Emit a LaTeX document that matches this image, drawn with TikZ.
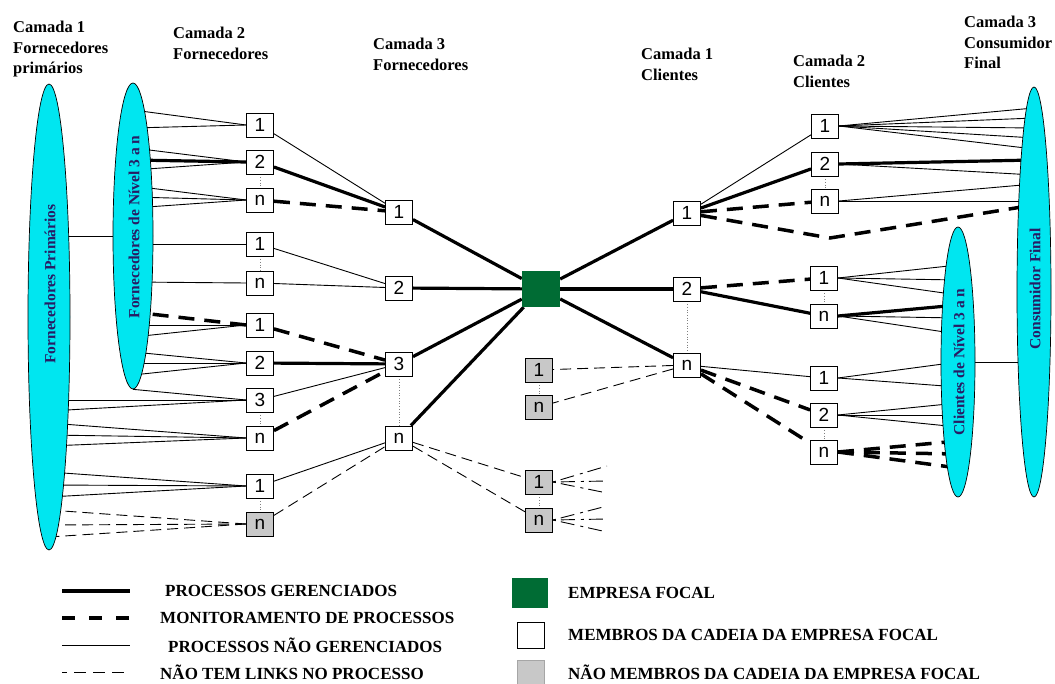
\documentclass[tikz,border=0pt]{standalone}
\usepackage{fontspec}
\setmainfont{Liberation Serif}
\newfontfamily\boxfont{Liberation Sans}
\usetikzlibrary{shapes.geometric}
\definecolor{cyanfill}{RGB}{0,230,240}
\definecolor{focalgreen}{RGB}{0,108,52}
\definecolor{navytext}{RGB}{40,28,100}
\definecolor{greybox}{RGB}{200,200,200}
\pgfdeclarelayer{bg}
\pgfsetlayers{bg,main}
\begin{document}
\begin{tikzpicture}[x=1pt,y=-1pt,
  mbox/.style={draw, fill=white, line width=0.9pt, minimum width=27pt, minimum height=24pt, inner sep=0pt, font=\boxfont\fontsize{19}{19}\selectfont},
  gbox/.style={mbox, fill=greybox},
  ell/.style={ellipse, draw, fill=cyanfill, line width=0.7pt, inner sep=0pt},
  etext/.style={rotate=90, text=navytext, font=\bfseries\fontsize{15.5}{15.5}\selectfont, inner sep=0pt},
  title/.style={anchor=north west, align=left, inner sep=0pt, font=\bfseries\fontsize{16.5}{20.5}\selectfont},
  legtext/.style={anchor=west, inner sep=0pt, font=\bfseries\fontsize{17}{17}\selectfont},
  thinl/.style={line width=0.9pt},
  thickl/.style={line width=3.2pt},
  mon/.style={line width=3.5pt, dash pattern=on 16pt off 10pt},
  nolink/.style={line width=0.9pt, dash pattern=on 11pt off 6pt},
  stub/.style={line width=0.9pt, dash pattern=on 3pt off 5pt on 14pt off 6pt},
  dots/.style={line width=0.7pt, dotted, gray},
]
\useasboundingbox (0,0) rectangle (1055,684);

% titles
\node[title] (T1) at (13,21) {Camada 1\\Fornecedores\\primários};
\node[title] (T2) at (173,27) {Camada 2\\Fornecedores};
\node[title] (T3) at (373,38) {Camada 3\\Fornecedores};
\node[title] (T4) at (641,48) {Camada 1\\Clientes};
\node[title] (T5) at (793,55) {Camada 2\\Clientes};
\node[title] (T6) at (964,16) {Camada 3\\Consumidor\\Final};

% ellipses
\node[ell, minimum width=42pt, minimum height=466pt] (FP) at (49,317) {};
\node[ell, minimum width=40pt, minimum height=306pt] (FN) at (133,236) {};
\node[ell, minimum width=34pt, minimum height=270pt] (CN) at (958,362) {};
\node[ell, minimum width=34pt, minimum height=410pt] (CF) at (1034,292) {};
\node[etext] (FPt) at (50,284) {Fornecedores Primários};
\node[etext] (FNt) at (134,227) {Fornecedores de Nível 3 a n};
\node[etext] (CNt) at (959,362) {Clientes de Nível 3 a n};
\node[etext] (CFt) at (1035,289) {Consumidor Final};

% camada 2 fornecedores
\node[mbox] (L1) at (260,125) {1};
\node[mbox] (L2) at (260,162) {2};
\node[mbox] (L3) at (260,200) {n};
\node[mbox] (L4) at (260,244) {1};
\node[mbox] (L5) at (260,283) {n};
\node[mbox] (L6) at (260,325) {1};
\node[mbox] (L7) at (260,363) {2};
\node[mbox] (L8) at (260,400) {3};
\node[mbox] (L9) at (260,438) {n};
\node[mbox] (L10) at (260,486) {1};
\node[gbox] (L11) at (260,524) {n};

% camada 3 fornecedores
\node[mbox] (F1) at (399,212) {1};
\node[mbox] (F2) at (399,288) {2};
\node[mbox] (F3) at (399,364) {3};
\node[mbox] (F4) at (399,438) {n};

% focal
\node[fill=focalgreen, minimum width=38pt, minimum height=36pt, inner sep=0pt] (FOC) at (541,289) {};

% non members
\node[gbox] (G1) at (539,370) {1};
\node[gbox] (G2) at (539,407) {n};
\node[gbox] (G3) at (539,482) {1};
\node[gbox] (G4) at (539,520) {n};

% camada 1 clientes
\node[mbox] (C1a) at (687,213) {1};
\node[mbox] (C1b) at (687,289) {2};
\node[mbox] (C1c) at (687,365) {n};

% camada 2 clientes
\node[mbox] (R1) at (825,126) {1};
\node[mbox] (R2) at (825,164) {2};
\node[mbox] (R3) at (825,201) {n};
\node[mbox] (R4) at (824,278) {1};
\node[mbox] (R5) at (824,316) {n};
\node[mbox] (R6) at (824,378) {1};
\node[mbox] (R7) at (824,415) {2};
\node[mbox] (R8) at (824,452) {n};

\coordinate (kink) at (830,238);
\foreach \yy [count=\i] in {466,481,493} {\coordinate (sa\i) at (607,\yy);}
\foreach \yy [count=\i] in {506,519,532} {\coordinate (sb\i) at (607,\yy);}

\begin{pgfonlayer}{bg}
% ellipse link lines
\draw[thinl] (FN) -- (FP.center |- FN.center);
\draw[thinl] (CN) -- (CF.center |- CN.center);
% fans left
\foreach \yy in {110,128} \draw[thinl] (L1.west) -- (FN.center |- 0,\yy);
\foreach \yy in {148,170} \draw[thinl] (L2.west) -- (FN.center |- 0,\yy);
\draw[thickl] (L2.west) -- (FN.center |- 0,160);
\foreach \yy in {186,197,208} \draw[thinl] (L3.west) -- (FN.center |- 0,\yy);
\draw[thinl] (L4.west) -- (FN.center |- 0,244);
\draw[thinl] (L5.west) -- (FN.center |- 0,282);
\draw[mon] (L6.west) -- (FN.center |- 0,312);
\foreach \yy in {325,337} \draw[thinl] (L6.west) -- (FN.center |- 0,\yy);
\foreach \yy in {352,363,375} \draw[thinl] (L7.west) -- (FN.center |- 0,\yy);
\draw[thinl] (L8.west) -- (FN.south);
\foreach \yy in {400,411} \draw[thinl] (L8.west) -- (FP.center |- 0,\yy);
\foreach \yy in {423,435,446} \draw[thinl] (L9.west) -- (FP.center |- 0,\yy);
\foreach \yy in {472,485,497} \draw[thinl] (L10.west) -- (FP.center |- 0,\yy);
\foreach \yy in {510,525,537} \draw[nolink] (L11.west) -- (FP.center |- 0,\yy);
% camada 2 -> camada 3
\draw[thinl] (L1) -- (F1);
\draw[thickl] (L2) -- (F1);
\draw[mon] (L3) -- (F1);
\draw[thinl] (L4) -- (F2);
\draw[thinl] (L5) -- (F2);
\draw[mon] (L6) -- (F3);
\draw[thickl] (L7) -- (F3);
\draw[thinl] (L8) -- (F3);
\draw[mon] (L9) -- (F3);
\draw[thinl] (L10) -- (F4);
\draw[nolink] (L11) -- (F4);
% to focal
\foreach \n in {F1,F2,F3,F4} \draw[thickl] (\n) -- (FOC);
\foreach \n in {C1a,C1b,C1c} \draw[thickl] (FOC) -- (\n);
% non member links
\draw[nolink] (F4) -- (G3);
\draw[nolink] (F4) -- (G4);
\draw[nolink] (C1c) -- (G1);
\draw[nolink] (C1c) -- (G2);
\foreach \i in {1,2,3} {
  \draw[stub] (G3.east) -- (sa\i);
  \draw[stub] (G4.east) -- (sb\i);
}
% clientes camada 1 -> camada 2
\draw[thinl] (C1a) -- (R1);
\draw[thickl] (C1a) -- (R2);
\draw[mon] (C1a) -- (R3);
\draw[mon] (C1a) -- (kink) -- (CF.center |- 0,205);
\draw[mon] (C1b) -- (R4);
\draw[thickl] (C1b) -- (R5);
\draw[thinl] (C1c) -- (R6);
\draw[mon] (C1c) -- (R7);
\draw[mon] (C1c) -- (R8);
% fans right
\foreach \yy in {108,118,128,138,149} \draw[thinl] (R1.east) -- (CF.center |- 0,\yy);
\draw[thickl] (R2.east) -- (CF.center |- 0,160);
\draw[thinl] (R2.east) -- (CF.center |- 0,175);
\foreach \yy in {184,201} \draw[thinl] (R3.east) -- (CF.center |- 0,\yy);
\foreach \yy in {265,280,295} \draw[thinl] (R4.east) -- (CN.center |- 0,\yy);
\draw[thickl] (R5.east) -- (CN.center |- 0,305);
\foreach \yy in {318,334} \draw[thinl] (R5.east) -- (CN.center |- 0,\yy);
\foreach \yy in {362,387} \draw[thinl] (R6.east) -- (CN.center |- 0,\yy);
\foreach \yy in {403,415,427} \draw[thinl] (R7.east) -- (CN.center |- 0,\yy);
\foreach \yy in {441,454,468} \draw[mon] (R8.east) -- (CN.center |- 0,\yy);
% dotted member chains
\draw[dots] (L2) -- (L3);
\draw[dots] (L4) -- (L5);
\draw[dots] (L8) -- (L9);
\draw[dots] (L10) -- (L11);
\draw[dots] (F3) -- (F4);
\draw[dots] (G1) -- (G2);
\draw[dots] (G3) -- (G4);
\draw[dots] (C1b) -- (C1c);
\draw[dots] (R2) -- (R3);
\draw[dots] (R4) -- (R5);
\draw[dots] (R7) -- (R8);
\end{pgfonlayer}

% legend
\coordinate (la1) at (62,591); \coordinate (lb1) at (130,591);
\coordinate (la2) at (62,618); \coordinate (lb2) at (130,618);
\coordinate (la3) at (62,645); \coordinate (lb3) at (130,645);
\coordinate (la4) at (62,672); \coordinate (lb4) at (130,672);
\draw[thickl] (la1) -- (lb1);
\draw[line width=3.5pt, dash pattern=on 13pt off 14pt] (la2) -- (lb2);
\draw[thinl] (la3) -- (lb3);
\draw[line width=0.9pt, dash pattern=on 5pt off 7pt on 12pt off 7pt on 12pt off 7pt on 12pt off 7pt] (la4) -- (lb4);
\node[legtext] (lt1) at (165,591) {PROCESSOS GERENCIADOS};
\node[legtext] (lt2) at (160,618) {MONITORAMENTO DE PROCESSOS};
\node[legtext] (lt3) at (168,645) {PROCESSOS NÃO GERENCIADOS};
\node[legtext] (lt4) at (160,672) {NÃO TEM LINKS NO PROCESSO};
\node[fill=focalgreen, minimum width=36pt, minimum height=30pt, inner sep=0pt] (lgF) at (530,593) {};
\node[mbox, minimum height=26pt] (lgM) at (531,635) {};
\node[gbox, draw=gray!70] (lgN) at (531,672) {};
\node[legtext] (lt5) at (568,593) {EMPRESA FOCAL};
\node[legtext] (lt6) at (568,635) {MEMBROS DA CADEIA DA EMPRESA FOCAL};
\node[legtext] (lt7) at (568,672) {NÃO MEMBROS DA CADEIA DA EMPRESA FOCAL};
\end{tikzpicture}
\end{document}
